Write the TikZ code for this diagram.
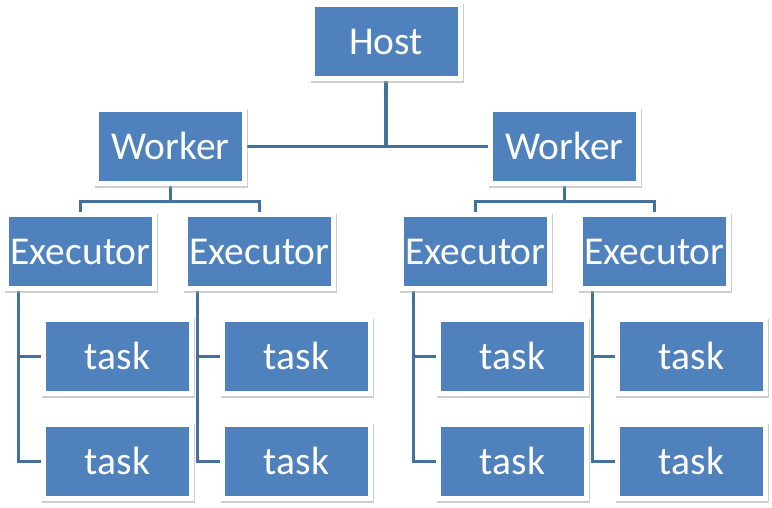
\documentclass[tikz,border=0pt]{standalone}
\usepackage{fontspec}
\setmainfont{Carlito}
\usetikzlibrary{shadows,backgrounds}
\definecolor{boxblue}{HTML}{4F81BD}
\definecolor{lineblue}{HTML}{41719C}
\begin{document}
\begin{tikzpicture}
  [x=1pt,y=-1pt,every node/.style={rectangle,fill=boxblue,draw=white,line width=5pt,
   minimum width=148pt,minimum height=74pt,inner sep=0pt,text=white,
   font=\fontsize{39.5}{41}\selectfont,text height=25pt,text depth=0pt,
   drop shadow={shadow xshift=1.2pt,shadow yshift=-2pt,fill=black!35,draw=black!35,
   line width=5pt,opacity=.55}}]
  \tikzstyle{link} = [draw=lineblue,line width=3.2pt]
  \useasboundingbox (0,0) rectangle (772,507);
  \node (host) at (386,41.5) {Host};
  \node (w1) at (170.5,146.5) {Worker};
  \node (w2) at (564.5,146.5) {Worker};
  \node (e1) at (80.5,251.5) {Executor};
  \node (e2) at (259.5,251.5) {Executor};
  \node (e3) at (475.5,251.5) {Executor};
  \node (e4) at (654.5,251.5) {Executor};
  \node (t1a) at (117.5,356.5) {task};
  \node (t1b) at (117.5,461.5) {task};
  \node (t2a) at (296.5,356.5) {task};
  \node (t2b) at (296.5,461.5) {task};
  \node (t3a) at (512.5,356.5) {task};
  \node (t3b) at (512.5,461.5) {task};
  \node (t4a) at (691.5,356.5) {task};
  \node (t4b) at (691.5,461.5) {task};

\begin{scope}[on background layer]
  \draw[link] (host.south) |- (w1.east);
  \draw[link] (host.south) |- (w2.west);
\foreach \source /\dest in {w1/e1,w1/e2,w2/e3,w2/e4}
   \draw[link] (\source.south) -- ++(0,15.5) -| (\dest.north);
\foreach \source /\dest in {e1/t1a,e1/t1b,e2/t2a,e2/t2b,e3/t3a,e3/t3b,e4/t4a,e4/t4b}
   \draw[link] ([xshift=14.5pt]\source.south west) |- (\dest.west);
\end{scope}
  \end{tikzpicture}
\end{document}
